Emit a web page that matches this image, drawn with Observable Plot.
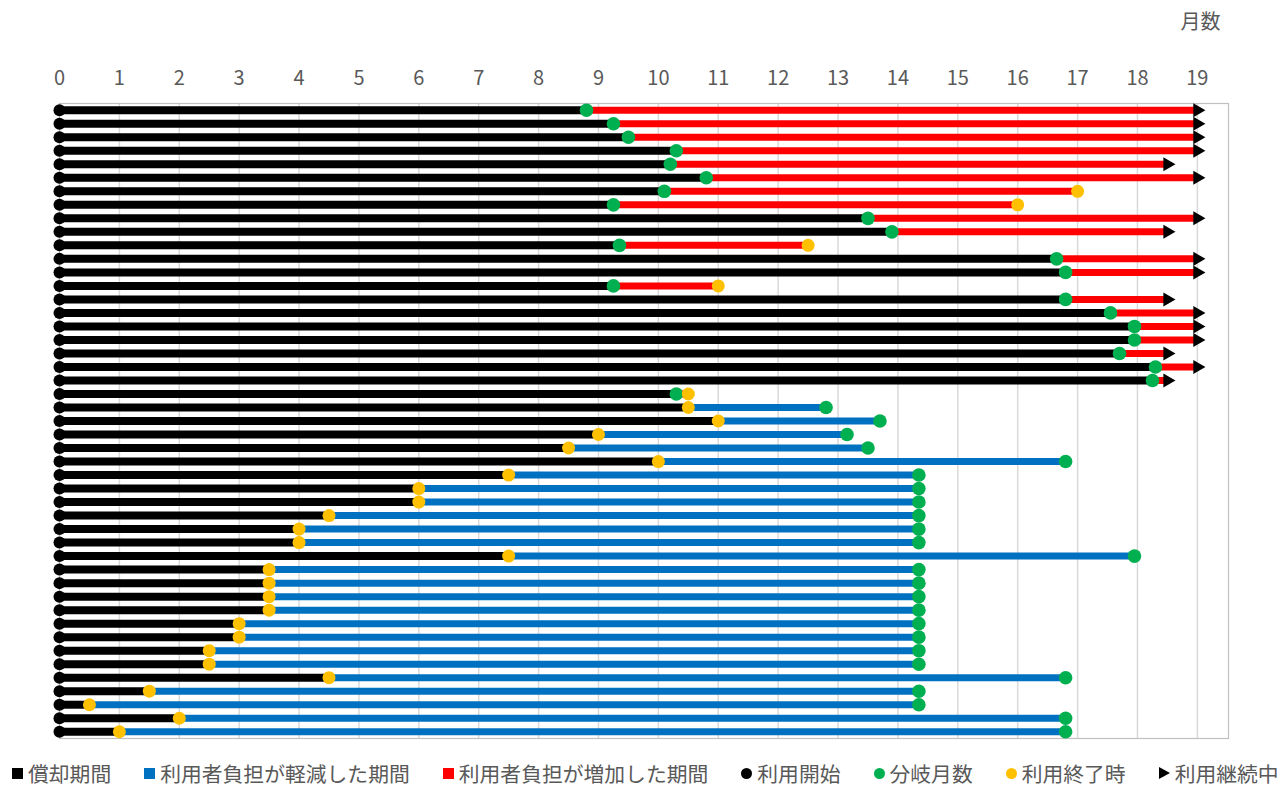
<!DOCTYPE html>
<html>
<head>
<meta charset="utf-8">
<script src="https://cdn.jsdelivr.net/npm/d3@7"></script>
<script src="https://cdn.jsdelivr.net/npm/@observablehq/plot@0.6"></script>
<style>
  html, body { margin: 0; padding: 0; background: #fff; }
  body { width: 1283px; height: 787px; overflow: hidden; font-family: "Noto Sans CJK JP", "Noto Sans", sans-serif; }
  #legend { display: flex; align-items: center; height: 36px; padding-left: 12px; gap: 33px; color: #595959; font-size: 20.8px; }
  .item { display: flex; align-items: center; gap: 5px; }
  .sq { width: 11px; height: 11px; display: inline-block; }
  .dot { width: 11px; height: 11px; border-radius: 50%; display: inline-block; }
  .tri { width: 0; height: 0; border-top: 6px solid transparent; border-bottom: 6px solid transparent; border-left: 11px solid #000; display: inline-block; }
</style>
</head>
<body>
<div id="chart"></div>
<div id="legend"></div>
<script>
// 分岐月数 (branch month) per user
const branchMonth = [8.8, 9.25, 9.5, 10.3, 10.2, 10.8, 10.1, 9.25, 13.5, 13.9,
  9.35, 16.65, 16.8, 9.25, 16.8, 17.55, 17.95, 17.95, 17.7, 18.3,
  18.25, 10.3,
  12.8, 13.7, 13.15, 13.5, 16.8,
  14.35, 14.35, 14.35, 14.35, 14.35, 14.35,
  17.95,
  14.35, 14.35, 14.35, 14.35, 14.35, 14.35, 14.35, 14.35,
  16.8, 14.35, 14.35, 16.8, 16.8];
// 利用終了時 / 現在の月数 (end of use or current month)
const endMonth = [19, 19, 19, 19, 18.5, 19, 17, 16, 19, 18.5,
  12.5, 19, 19, 11, 18.5, 19, 19, 19, 18.5, 19,
  18.5, 10.5,
  10.5, 11, 9, 8.5, 10,
  7.5, 6, 6, 4.5, 4, 4,
  7.5,
  3.5, 3.5, 3.5, 3.5, 3, 3, 2.5, 2.5,
  4.5, 1.5, 0.5, 2, 1];
// 利用継続中 (still in use)
const stillInUse = [1, 1, 1, 1, 1, 1, 0, 0, 1, 1,
  0, 1, 1, 0, 1, 1, 1, 1, 1, 1,
  1, 0,
  0, 0, 0, 0, 0,
  0, 0, 0, 0, 0, 0,
  0,
  0, 0, 0, 0, 0, 0, 0, 0,
  0, 0, 0, 0, 0];
const monthTicks = [0,1,2,3,4,5,6,7,8,9,10,11,12,13,14,15,16,17,18,19];
const axisLabel = "月数";
const legendItems = [
  {label: "償却期間", kind: "sq", color: "#000000"},
  {label: "利用者負担が軽減した期間", kind: "sq", color: "#0070C0"},
  {label: "利用者負担が増加した期間", kind: "sq", color: "#FF0000"},
  {label: "利用開始", kind: "dot", color: "#000000"},
  {label: "分岐月数", kind: "dot", color: "#00B050"},
  {label: "利用終了時", kind: "dot", color: "#FFC000"},
  {label: "利用継続中", kind: "tri", color: "#000000"}
];

const rows = branchMonth.map((b, i) => ({
  row: i + 1, branch: b, end: endMonth[i], cont: !!stillInUse[i],
  amort: Math.min(b, endMonth[i])
}));
const inc = rows.filter(d => d.end > d.branch);
const dec = rows.filter(d => d.end < d.branch);
const ended = rows.filter(d => !d.cont);
const cont = rows.filter(d => d.cont);

const font = "'Noto Sans CJK JP', 'Noto Sans', sans-serif";

const chart = Plot.plot({
  width: 1283,
  height: 755,
  marginTop: 103,
  marginBottom: 17,
  marginLeft: 59,
  marginRight: 55,
  style: {fontFamily: font, fontSize: "20px", color: "#595959", background: "#fff"},
  x: {domain: [0, 19.52], ticks: monthTicks},
  y: {type: "linear", domain: [0.5, rows.length + 0.5], reverse: true, axis: null},
  marks: [
    Plot.gridX(monthTicks, {stroke: "#d9d9d9", strokeOpacity: 1, strokeWidth: 1.5}),
    Plot.frame({stroke: "#c0c0c0", strokeWidth: 1.2}),
    Plot.axisX(monthTicks, {anchor: "top", tickSize: 0, tickPadding: 19, label: null, fill: "#595959", fontSize: 20}),
    Plot.text([axisLabel], {frameAnchor: "top-right", dx: -28, dy: -75, textAnchor: "middle", lineAnchor: "bottom", fill: "#595959", fontSize: 20}),
    Plot.ruleY(rows, {y: "row", x1: 0, x2: "amort", stroke: "#000", strokeWidth: 8}),
    Plot.ruleY(inc, {y: "row", x1: "branch", x2: "end", stroke: "#FF0000", strokeWidth: 7}),
    Plot.ruleY(dec, {y: "row", x1: "end", x2: "branch", stroke: "#0070C0", strokeWidth: 7}),
    Plot.dot(rows, {y: "row", x: () => 0, r: 6, fill: "#000"}),
    Plot.dot(rows, {y: "row", x: "branch", r: 6.8, fill: "#00B050"}),
    Plot.dot(ended, {y: "row", x: "end", r: 6.5, fill: "#FFC000"}),
    Plot.dot(cont, {y: "row", x: "end", r: 5.2, symbol: "triangle", rotate: 90, fill: "#000"})
  ]
});
document.getElementById("chart").appendChild(chart);

const legend = d3.select("#legend");
for (const it of legendItems) {
  const item = legend.append("div").attr("class", "item");
  if (it.kind === "tri") item.append("span").attr("class", "tri");
  else item.append("span").attr("class", it.kind).style("background", it.color);
  item.append("span").text(it.label);
}
</script>
</body>
</html>
